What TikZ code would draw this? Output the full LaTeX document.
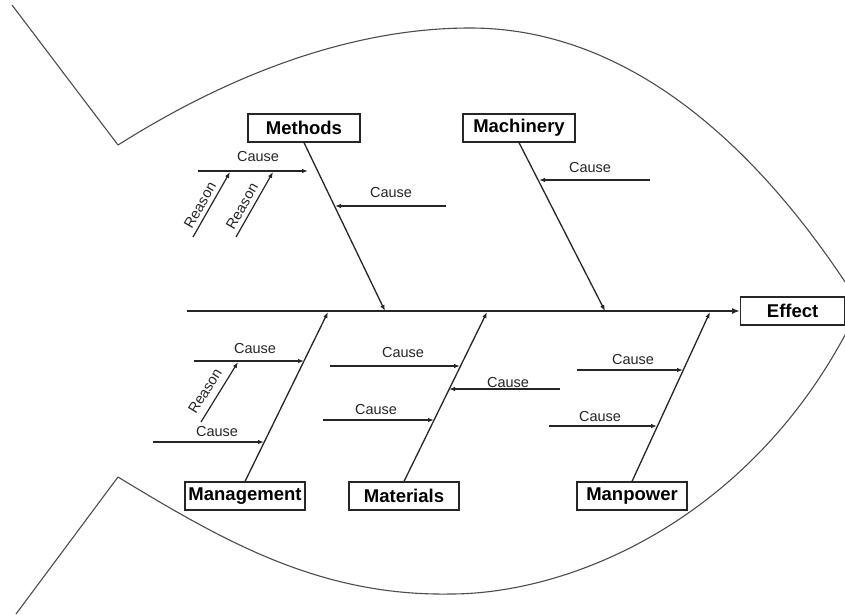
\documentclass[tikz,border=0pt]{standalone}
\usepackage{fontspec}
\setmainfont{Liberation Sans}
\usetikzlibrary{arrows.meta}
\begin{document}
\begin{tikzpicture}[x=1pt,y=-1pt,
  outline/.style={draw=black!70,line width=1.1pt,line join=round},
  catbox/.style={draw=black!85,line width=1.2pt,fill=white,minimum height=28pt,inner sep=0pt,font=\bfseries\fontsize{18.5}{18.5}\selectfont},
  spine/.style={draw=black!85,line width=2pt,-{Latex[length=8pt,width=6pt]}},
  bone/.style={draw=black!85,line width=1.3pt,-{Latex[length=6pt,width=4.5pt]}},
  causeline/.style={draw=black!85,line width=1.2pt,-{Latex[length=6pt,width=4.5pt]}},
  lbl/.style={font=\fontsize{14.5}{14.5}\selectfont,inner sep=0pt,text=black!85},
]
\clip (0,0) rectangle (845,614);
\fill[white] (0,0) rectangle (845,614);
% fish outline
\draw[outline] (12,5) -- (118,145)
  .. controls (240,68) and (360,28) .. (470,28)
  .. controls (660,28) and (792,197) .. (860,305)
  .. controls (765,510) and (580,594) .. (450,594)
  .. controls (320,596) and (225,542) .. (118,477)
  -- (16,614);
% spine and effect
\node[catbox,minimum width=104pt,anchor=west] (effect) at (740,311) {Effect};
\coordinate (spineL) at (187,311);
\draw[spine] (spineL) -- (effect.west);
% category boxes
\node[catbox,minimum width=112pt] (methods) at (304,128) {Methods};
\node[catbox,minimum width=112pt] (machinery) at (519,128) {Machinery};
\node[catbox,minimum width=120pt] (management) at (245,496) {Management};
\node[catbox,minimum width=110pt] (materials) at (404,496) {Materials};
\node[catbox,minimum width=110pt] (manpower) at (632,496) {Manpower};
% bone ends on the spine
\coordinate (mB) at (385,311);
\coordinate (maB) at (605,311);
\coordinate (mgB) at (328,312);
\coordinate (mtB) at (487,312);
\coordinate (mpB) at (710,312);
\draw[bone] (methods.south) -- (mB);
\draw[bone] (machinery.south) -- (maB);
\draw[bone] (management.north) -- (mgB);
\draw[bone] (materials.north) -- (mtB);
\draw[bone] (manpower.north) -- (mpB);
% Methods causes
\coordinate (c1s) at (198,171); \coordinate (c1e) at (308,171);
\draw[causeline] (c1s) -- (c1e);
\node[lbl] (c1l) at (258,157) {Cause};
\coordinate (r1s) at (193,237); \coordinate (r1e) at (230,172);
\draw[causeline] (r1s) -- (r1e);
\node[lbl,rotate=60] (r1l) at (200,205) {Reason};
\coordinate (r2s) at (236,237); \coordinate (r2e) at (273,172);
\draw[causeline] (r2s) -- (r2e);
\node[lbl,rotate=60] (r2l) at (242,206) {Reason};
\coordinate (c2s) at (446,206); \coordinate (c2e) at (335,206);
\draw[causeline] (c2s) -- (c2e);
\node[lbl] (c2l) at (391,193) {Cause};
% Machinery cause
\coordinate (c3s) at (650,180); \coordinate (c3e) at (539,180);
\draw[causeline] (c3s) -- (c3e);
\node[lbl] (c3l) at (590,168) {Cause};
% Management causes
\coordinate (c4s) at (194,361); \coordinate (c4e) at (304,361);
\draw[causeline] (c4s) -- (c4e);
\node[lbl] (c4l) at (255,348) {Cause};
\coordinate (r3s) at (201,422); \coordinate (r3e) at (238,362);
\draw[causeline] (r3s) -- (r3e);
\node[lbl,rotate=58] (r3l) at (205,391) {Reason};
\coordinate (c5s) at (153,442); \coordinate (c5e) at (264,442);
\draw[causeline] (c5s) -- (c5e);
\node[lbl] (c5l) at (217,431) {Cause};
% Materials causes
\coordinate (c6s) at (330,366); \coordinate (c6e) at (460,366);
\draw[causeline] (c6s) -- (c6e);
\node[lbl] (c6l) at (403,352) {Cause};
\coordinate (c7s) at (323,420); \coordinate (c7e) at (434,420);
\draw[causeline] (c7s) -- (c7e);
\node[lbl] (c7l) at (376,409) {Cause};
\coordinate (c8s) at (560,389); \coordinate (c8e) at (449,389);
\draw[causeline] (c8s) -- (c8e);
\node[lbl] (c8l) at (508,382) {Cause};
% Manpower causes
\coordinate (c9s) at (577,370); \coordinate (c9e) at (683,370);
\draw[causeline] (c9s) -- (c9e);
\node[lbl] (c9l) at (633,359) {Cause};
\coordinate (c10s) at (549,426); \coordinate (c10e) at (657,426);
\draw[causeline] (c10s) -- (c10e);
\node[lbl] (c10l) at (600,416) {Cause};
\end{tikzpicture}
\end{document}
